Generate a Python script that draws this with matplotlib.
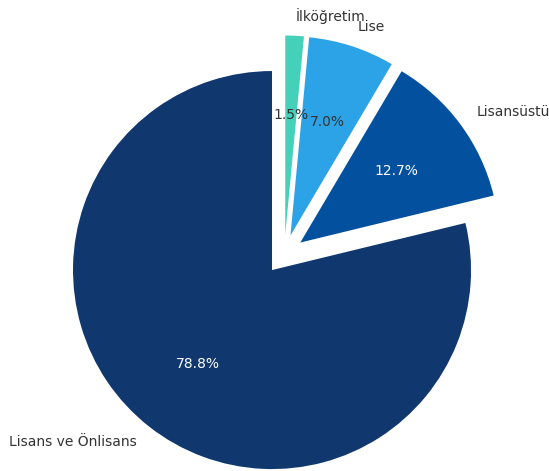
import matplotlib.pyplot as plt

labels = ['İlköğretim', 'Lise', 'Lisansüstü', 'Lisans ve Önlisans']
shares = [1.5, 7.0, 12.7, 78.8]
colors = ['#45D0B9', '#2CA3E6', '#02509E', '#10386E']
explode = [0.1, 0.1, 0.1, 0.1]
pct_colors = ['#333333', '#333333', 'white', 'white']

fig = plt.figure(figsize=(5.49, 4.71), dpi=100)
ax = fig.add_axes([0, 0, 1, 1])

wedges, texts, autotexts = ax.pie(
    shares, labels=labels, colors=colors, explode=explode,
    startangle=90, counterclock=False, autopct='%1.1f%%',
    textprops={'fontsize': 10, 'color': '#333333'},
)
for t, c in zip(autotexts, pct_colors):
    t.set_color(c)

# radius of 1 spans about 199 px
ax.set_xlim(-1.4286, 1.330)
ax.set_ylim(-1.088, 1.278)
ax.set_aspect('equal')
ax.axis('off')

fig.savefig('out.png', dpi=100)
